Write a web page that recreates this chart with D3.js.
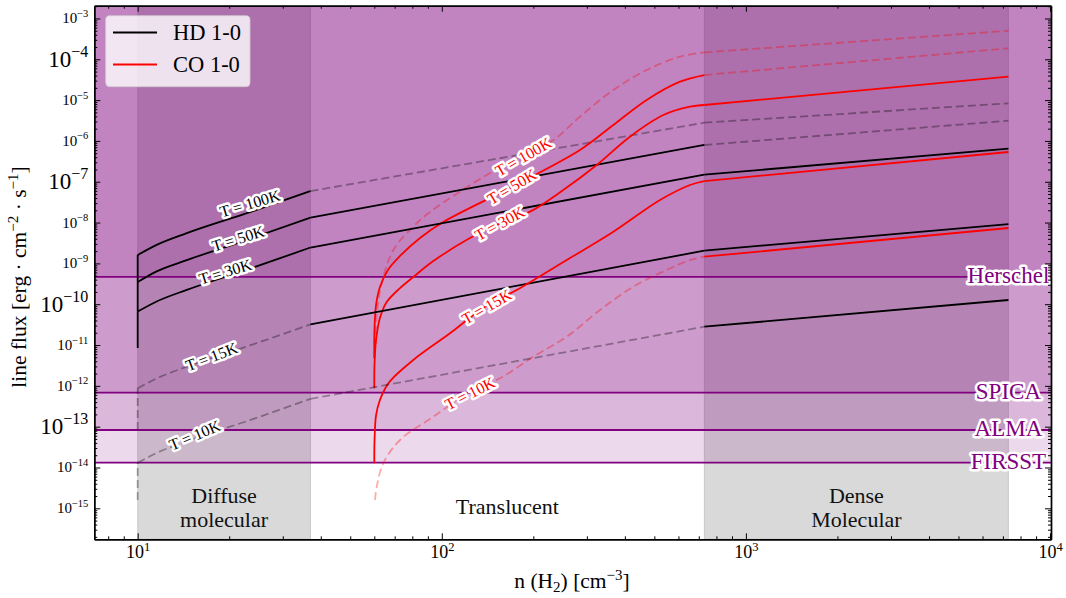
<!DOCTYPE html>
<html lang="en">
<head>
<meta charset="utf-8">
<style>
  body { margin: 0; background: #fff; }
  svg text { font-family: "Liberation Serif", "DejaVu Serif", serif; }
  .halo { paint-order: stroke; stroke: #fff; stroke-linejoin: round; }
  .axis path, .axis line { stroke: #000; }
</style>
</head>
<body>
<svg width="1066" height="598"></svg>

<script src="https://cdn.jsdelivr.net/npm/d3@7/dist/d3.min.js"></script>
<script>
// ---- data (n(H2) in cm^-3, line flux in erg cm^-2 s^-1) ----
var temps = ["100K", "50K", "30K", "15K", "10K"];
var regionEdges = [10, 37, 730, 7300];
var regionNames = [["Diffuse", "molecular"], ["Translucent"], ["Dense", "Molecular"]];

var instruments = ["Herschel", "SPICA", "ALMA", "FIRSST"];
var sensitivity = [4.7e-10, 6.8e-13, 8.3e-14, 1.31e-14];

// HD 1-0, diffuse part (first point is the drop at n = 10)
var hdDiffuseN = [10, 10, 11.5, 14.5, 23.4, 37];
var hd100Diffuse = [3.5e-10, 1.6e-9, 2.8e-9, 5.5e-9, 1.8e-8, 5.9e-8];
var hd50Diffuse  = [6.6e-11, 3.5e-10, 6.3e-10, 1.2e-9, 4.0e-9, 1.32e-8];
var hd30Diffuse  = [8.5e-12, 6.6e-11, 1.15e-10, 2.24e-10, 7.4e-10, 2.45e-9];
var hd15Diffuse  = [8.3e-14, 8.7e-13, 1.5e-12, 2.95e-12, 9.8e-12, 3.2e-11];
var hd10Diffuse  = [1.6e-15, 1.3e-14, 2.24e-14, 4.4e-14, 1.45e-13, 4.8e-13];

// HD 1-0, translucent (37 -> 730) and dense (730 -> 7300)
var hd100Translucent = [5.9e-8, 2.8e-6],   hd100Dense = [2.8e-6, 8.35e-6];
var hd50Translucent  = [1.32e-8, 7.96e-7], hd50Dense  = [7.96e-7, 3.13e-6];
var hd30Translucent  = [2.45e-9, 1.49e-7], hd30Dense  = [1.49e-7, 6.46e-7];
var hd15Translucent  = [3.2e-11, 2.05e-9], hd15Dense  = [2.05e-9, 9.2e-9];
var hd10Translucent  = [4.8e-13, 2.81e-11], hd10Dense = [2.81e-11, 1.27e-10];

// CO 1-0, translucent part
var co100N = [60, 61.1, 63.5, 69.3, 80.6, 91.5, 140.5, 185.4, 232.7, 284.7, 366.4, 471.9, 607.3, 730];
var co100Translucent = [4.81e-12, 4.94e-11, 3.26e-10, 2.13e-9, 7.93e-9, 1.82e-8, 1.47e-7, 4.53e-7, 1.05e-6, 3.93e-6, 1.77e-5, 5.47e-5, 1.16e-4, 1.48e-4];
var co50N = [60, 60.07, 60.8, 62.6, 66.5, 72.9, 84.8, 101.1, 170, 284.7, 366.4, 471.9, 607.3, 730];
var co50Translucent = [4.73e-12, 2.33e-11, 9.57e-11, 2.64e-10, 6.89e-10, 1.52e-9, 4.19e-9, 1.03e-8, 7.45e-8, 6.0e-7, 2.46e-6, 1.01e-5, 2.83e-5, 4.12e-5];
var co30N = [60, 60.07, 60.8, 62.6, 65.9, 72.9, 80.6, 93.8, 123.8, 155.4, 195.0, 250.9, 323.2, 415.7, 535.1, 655.0, 730];
var co30Translucent = [8.7e-13, 3.24e-12, 1.33e-11, 4.59e-11, 1.13e-10, 2.49e-10, 4.63e-10, 1.14e-9, 4.18e-9, 9.6e-9, 1.85e-8, 6.28e-8, 2.58e-7, 1.27e-6, 4.31e-6, 6.9e-6, 7.59e-6];
var co15N = [60, 60.1, 60.8, 62.6, 65.0, 67.6, 80.6, 106.4, 138.7, 176.3, 257.5, 365.6, 521.9, 655, 730];
var co15Translucent = [1.27e-14, 4.72e-14, 1.93e-13, 4.51e-13, 8.37e-13, 1.31e-12, 4.31e-12, 1.94e-11, 8.7e-11, 2.23e-10, 1.21e-9, 5.87e-9, 3.57e-8, 8.34e-8, 1.04e-7];
var co10N = [60.3, 61.1, 64.2, 72.9, 93.8, 123.8, 155.4, 200, 257.5, 331.3, 426.3, 549.1, 655, 730];
var co10Translucent = [1.6e-15, 3.39e-15, 1.27e-14, 4.72e-14, 1.75e-13, 7.2e-13, 1.53e-12, 5.18e-12, 1.6e-11, 7.2e-11, 2.69e-10, 6.89e-10, 1.21e-9, 1.46e-9];

// CO 1-0, dense (730 -> 7300)
var co100Dense = [1.48e-4, 5.0e-4];
var co50Dense  = [4.12e-5, 1.86e-4];
var co30Dense  = [7.59e-6, 3.75e-5];
var co15Dense  = [1.04e-7, 5.36e-7];
var co10Dense  = [1.46e-9, 7.36e-9];

// label anchor points [n, flux, angle]
var hdLabelAt = [[23.4, 2.96e-8, -16.6], [21.4, 4.1e-9, -17], [19.4, 6.3e-10, -17], [17.5, 5.2e-12, -21], [15.4, 6.25e-14, -23]];
var coLabelAt = [[185.4, 4.1e-7, -30], [170, 7.6e-8, -31], [155, 9.6e-9, -29], [140.5, 8.7e-11, -30], [123.8, 6.6e-13, -27]];

var yMajorBig = [-4, -7, -10, -13];

// ---- setup ----
var svg = d3.select("svg");
var pl = 94.3, pr = 1051, pt = 5.7, pb = 539.3;

var x = d3.scaleLog().domain([7.2, 10076]).range([pl, pr]);
var y = d3.scaleLog().domain([Math.pow(10, -15.759), Math.pow(10, -2.687)]).range([pb, pt]);

svg.append("defs").append("clipPath").attr("id", "plot")
    .append("rect").attr("x", pl).attr("y", pt).attr("width", pr - pl).attr("height", pb - pt);

var plot = svg.append("g").attr("clip-path", "url(#plot)");

// grey region spans (diffuse, dense)
[[regionEdges[0], regionEdges[1]], [regionEdges[2], regionEdges[3]]].forEach(function (s) {
    plot.append("rect")
        .attr("x", x(s[0])).attr("y", pt)
        .attr("width", x(s[1]) - x(s[0])).attr("height", pb - pt)
        .attr("fill", "#808080").attr("fill-opacity", 0.3)
        .attr("stroke", "#808080").attr("stroke-opacity", 0.3).attr("stroke-width", 1);
});

// sensitivity spans, stacked
sensitivity.forEach(function (v) {
    plot.append("rect")
        .attr("x", pl).attr("y", pt)
        .attr("width", pr - pl).attr("height", y(v) - pt)
        .attr("fill", "purple").attr("fill-opacity", 0.15);
});
sensitivity.forEach(function (v) {
    plot.append("line")
        .attr("x1", pl).attr("x2", pr).attr("y1", y(v)).attr("y2", y(v))
        .attr("stroke", "purple").attr("stroke-width", 1.8);
});

// ---- curves ----
var smooth = d3.line().x(function (d) { return x(d[0]); }).y(function (d) { return y(d[1]); })
    .curve(d3.curveMonotoneX);
var spline = d3.line().x(function (d) { return x(d[0]); }).y(function (d) { return y(d[1]); })
    .curve(d3.curveCatmullRom.alpha(0.5));
var straight = d3.line().x(function (d) { return x(d[0]); }).y(function (d) { return y(d[1]); });

function seg(ns, fs, color, solid, gen) {
    var pts = ns.map(function (n, i) { return [n, fs[i]]; });
    plot.append("path")
        .attr("d", (gen || smooth)(pts))
        .attr("fill", "none")
        .attr("stroke", color)
        .attr("stroke-width", 1.8)
        .attr("stroke-opacity", solid ? 1 : 0.33)
        .attr("stroke-dasharray", solid ? null : "8,4");
}

var trN = [regionEdges[1], regionEdges[2]];
var deN = [regionEdges[2], regionEdges[3]];

var hdDiffuse = [hd100Diffuse, hd50Diffuse, hd30Diffuse, hd15Diffuse, hd10Diffuse];
var hdTranslucent = [hd100Translucent, hd50Translucent, hd30Translucent, hd15Translucent, hd10Translucent];
var hdDense = [hd100Dense, hd50Dense, hd30Dense, hd15Dense, hd10Dense];
var hdSolid = [[1, 0, 0], [1, 1, 0], [1, 1, 1], [0, 1, 1], [0, 0, 1]];

var coN = [co100N, co50N, co30N, co15N, co10N];
var coTranslucent = [co100Translucent, co50Translucent, co30Translucent, co15Translucent, co10Translucent];
var coDense = [co100Dense, co50Dense, co30Dense, co15Dense, co10Dense];
var coSolid = [[0, 0], [1, 0], [1, 1], [1, 1], [0, 1]];

temps.forEach(function (t, i) {
    // vertical drop at n = 10, then the rising curve
    seg(hdDiffuseN.slice(0, 2), hdDiffuse[i].slice(0, 2), "#000", hdSolid[i][0], straight);
    seg(hdDiffuseN.slice(1), hdDiffuse[i].slice(1), "#000", hdSolid[i][0]);
    seg(trN, hdTranslucent[i], "#000", hdSolid[i][1]);
    seg(deN, hdDense[i], "#000", hdSolid[i][2]);
    seg(coN[i], coTranslucent[i], "red", coSolid[i][0], spline);
    seg(deN, coDense[i], "red", coSolid[i][1]);
});

// curve labels
function tLabel(p, t, color) {
    svg.append("text").attr("class", "halo")
        .attr("transform", "translate(" + x(p[0]) + "," + y(p[1]) + ") rotate(" + p[2] + ")")
        .attr("text-anchor", "middle").attr("dy", "0.35em")
        .attr("font-size", 16).attr("fill", color)
        .attr("stroke-width", 5)
        .text("T = " + t);
}
temps.forEach(function (t, i) {
    tLabel(hdLabelAt[i], t, "#000");
    tLabel(coLabelAt[i], t, "red");
});

// region names
regionNames.forEach(function (lines, i) {
    var cx = Math.sqrt(regionEdges[i] * regionEdges[i + 1]);
    var t = svg.append("text").attr("text-anchor", "middle")
        .attr("font-size", 22).attr("fill", "#111");
    if (lines.length === 2) {
        t.append("tspan").attr("x", x(cx)).attr("y", 503).text(lines[0]);
        t.append("tspan").attr("x", x(cx)).attr("y", 527).text(lines[1]);
    } else {
        t.append("tspan").attr("x", x(cx)).attr("y", 514).text(lines[0]);
    }
});

// instrument names
instruments.forEach(function (name, i) {
    svg.append("text").attr("class", "halo")
        .attr("x", x(regionEdges[3])).attr("y", y(sensitivity[i]) - 2)
        .attr("dy", "0.35em").attr("text-anchor", "middle")
        .attr("font-size", 23).attr("fill", "purple")
        .attr("stroke-width", 5)
        .text(name);
});

// ---- axes ----
var xMajor = [10, 100, 1000, 10000];
var xMinor = [];
[1, 10, 100, 1000].forEach(function (d) { for (var k = 2; k < 10; k++) xMinor.push(k * d); });
xMinor = xMinor.filter(function (v) { return v >= 7.2 && v <= 10076; });

var yMajor = d3.range(-15, -2).map(function (e) { return Math.pow(10, e); });
var yMinor = [];
d3.range(-16, -2).forEach(function (e) { for (var k = 2; k < 10; k++) yMinor.push(k * Math.pow(10, e)); });
yMinor = yMinor.filter(function (v) { return v >= y.domain()[0] && v <= y.domain()[1]; });

function axis(gen, vals, size, tx, ty) {
    return svg.append("g").attr("class", "axis")
        .attr("transform", "translate(" + tx + "," + ty + ")")
        .call(gen.tickValues(vals).tickSize(-size).tickSizeOuter(0).tickFormat(""))
        .call(function (g) { g.select(".domain").attr("stroke-width", 1.4); g.selectAll(".tick line").attr("stroke-width", 1); });
}

var xb = axis(d3.axisBottom(x), xMajor, 6, 0, pb);
axis(d3.axisBottom(x), xMinor, 3, 0, pb);
axis(d3.axisTop(x), xMajor, 6, 0, pt);
axis(d3.axisTop(x), xMinor, 3, 0, pt);
var yl = axis(d3.axisLeft(y), yMajor, 6, pl, 0);
axis(d3.axisLeft(y), yMinor, 3, pl, 0);
axis(d3.axisRight(y), yMajor, 6, pr, 0);
axis(d3.axisRight(y), yMinor, 3, pr, 0);

xb.selectAll(".tick").each(function (d) {
    var t = d3.select(this).append("text").attr("fill", "#000")
        .attr("y", 19).attr("text-anchor", "middle").attr("font-size", 18);
    t.append("tspan").text("10");
    t.append("tspan").attr("font-size", 12.5).attr("dy", -7).text(Math.round(Math.log10(d)));
});

yl.selectAll(".tick").each(function (d) {
    var e = Math.round(Math.log10(d));
    var big = yMajorBig.indexOf(e) >= 0;
    var t = d3.select(this).append("text").attr("fill", "#000")
        .attr("x", -6).attr("y", big ? 7 : 4.5).attr("text-anchor", "end")
        .attr("font-size", big ? 23 : 15);
    t.append("tspan").text("10");
    t.append("tspan").attr("font-size", big ? 16 : 10.5).attr("dy", big ? -10 : -6.5).text("\u2212" + (-e));
});

// axis titles
var xt = svg.append("text").attr("x", 572).attr("y", 588).attr("text-anchor", "middle").attr("font-size", 21.5);
xt.append("tspan").text("n (H");
xt.append("tspan").attr("font-size", 15).attr("dy", 4).text("2");
xt.append("tspan").attr("dy", -4).text(") [cm");
xt.append("tspan").attr("font-size", 15).attr("dy", -8).text("\u22123");
xt.append("tspan").attr("dy", 8).text("]");

var yt = svg.append("text").attr("transform", "translate(26,277) rotate(-90)")
    .attr("text-anchor", "middle").attr("font-size", 21.5);
yt.append("tspan").text("line flux [erg \u00b7 cm");
yt.append("tspan").attr("font-size", 15).attr("dy", -8).text("\u22122");
yt.append("tspan").attr("dy", 8).text(" \u00b7 s");
yt.append("tspan").attr("font-size", 15).attr("dy", -8).text("\u22121");
yt.append("tspan").attr("dy", 8).text("]");

// ---- legend ----
var lg = svg.append("g");
lg.append("rect").attr("x", 105.7).attr("y", 15.7).attr("width", 144.3).attr("height", 71)
    .attr("rx", 4).attr("fill", "#fff").attr("fill-opacity", 0.8)
    .attr("stroke", "#ccc").attr("stroke-opacity", 0.8);
[["HD 1-0", "#000"], ["CO 1-0", "red"]].forEach(function (e, i) {
    var yy = 32.5 + i * 32;
    lg.append("line").attr("x1", 113).attr("x2", 157).attr("y1", yy).attr("y2", yy)
        .attr("stroke", e[1]).attr("stroke-width", 2);
    lg.append("text").attr("x", 173).attr("y", yy).attr("dy", "0.35em")
        .attr("font-size", 22.5).attr("fill", "#000").text(e[0]);
});
</script>
</body>
</html>
